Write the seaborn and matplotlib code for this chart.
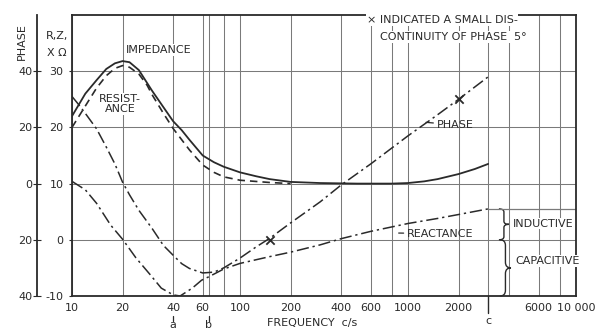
import numpy as np
import pandas as pd
import matplotlib
matplotlib.use("Agg")
import matplotlib.pyplot as plt
from matplotlib.path import Path
from matplotlib.patches import PathPatch
import matplotlib.transforms as mtransforms
import seaborn as sns

# ---------------- data ----------------
imp_freq = [10, 12, 14, 16, 18, 20, 22, 25, 28, 30, 35, 40, 45, 50, 60, 70, 80, 100,
            125, 150, 200, 300, 500, 800, 1000, 1250, 1500, 2000, 2500, 3000]
impedance = [22.0, 26.0, 28.4, 30.4, 31.4, 31.8, 31.6, 30.2, 27.9, 26.5, 23.6, 21.1, 19.5,
             17.8, 15.0, 13.8, 13.0, 12.0, 11.3, 10.8, 10.3, 10.1, 10.0, 10.0, 10.1, 10.4,
             10.8, 11.7, 12.6, 13.5]

res_freq = [10, 12, 14, 16, 18, 20, 22, 25, 28, 30, 35, 40, 50, 60, 70, 80, 100, 150, 200]
resistance = [20.0, 23.8, 27.0, 29.2, 30.5, 31.0, 30.7, 29.5, 27.5, 25.8, 22.5, 19.8, 16.0,
              13.3, 12.0, 11.2, 10.6, 10.2, 10.0]

rea_freq = [10, 12, 14, 17, 20, 24, 29, 34, 40, 44, 52, 59, 65, 80, 100, 150, 200, 300,
            400, 600, 1000, 1500, 2000, 3000]
reactance = [10.4, 8.9, 6.5, 2.6, 0.1, -3.2, -6.1, -8.6, -9.8, -10.0, -8.6, -7.2, -6.6,
             -5.2, -4.2, -3.0, -2.2, -0.9, 0.2, 1.5, 2.9, 3.8, 4.5, 5.5]

pha_freq = [10, 11, 12, 14, 16, 18, 20, 22, 25, 30, 35, 40, 45, 50, 60, 70, 80, 100, 125,
            150, 200, 300, 400, 600, 1000, 1500, 2000, 3000]
phase = [31, 28, 25, 19.5, 13, 7, 0.5, -4, -9.5, -16, -22, -25.5, -28.5, -30.2, -31.8,
         -31.5, -30, -26.5, -22.5, -19.5, -14, -6.5, -0.5, 7, 17, 24.5, 30, 38]

mark_freq = [150, 2000]
mark_phase = [-20, 30]

x_tick_vals = [10, 20, 40, 60, 100, 200, 400, 600, 1000, 2000, 6000, 10000]
x_tick_labels = ["10", "20", "40", "60", "100", "200", "400", "600", "1000", "2000",
                 "6000", "10 000"]
x_minor_grid = [65, 80, 800, 3000, 4000, 8000]
y_tick_vals = [-10, 0, 10, 20, 30]
y_tick_labels = ["-10", "0", "10", "20", "30"]
phase_tick_vals = [-40, -20, 0, 20, 40]
phase_tick_labels = ["40", "20", "0", "20", "40"]
special_labels = ["a", "b", "c"]
special_freqs = [40, 65, 3000]

# ---------------- style ----------------
sns.set_style("white")
plt.rcParams["font.family"] = ["DejaVu Sans"]
INK = "#2a2a2a"
GRID = "#7a7a7a"
FS = 8

W, H = 611, 332
fig = plt.figure(figsize=(W / 100, H / 100), dpi=100)
L, R, T, B = 72, 576, 15, 296
ax = fig.add_axes([L / W, 1 - B / H, (R - L) / W, (B - T) / H])
ax.set_xscale("log")
ax.set_xlim(10, 10000)
ax.set_ylim(-10, 40)

# grid
ax.set_xticks(x_tick_vals)
ax.set_xticklabels(x_tick_labels)
ax.set_xticks(x_minor_grid, minor=True)
ax.set_xticklabels([], minor=True)
ax.set_yticks(y_tick_vals)
ax.set_yticklabels(y_tick_labels)
ax.grid(which="both", axis="x", color=GRID, lw=0.75)
ax.grid(which="major", axis="y", color=GRID, lw=0.75)
ax.tick_params(axis="x", which="both", length=0, pad=5, labelsize=FS, colors=INK)
ax.tick_params(axis="y", length=2, pad=4, labelsize=FS, colors=INK)
for s in ax.spines.values():
    s.set_color(INK)
    s.set_linewidth(1.3)

# curves
sns.lineplot(x=imp_freq, y=impedance, ax=ax, color=INK, lw=1.3, estimator=None)
sns.lineplot(x=res_freq, y=resistance, ax=ax, color=INK, lw=1.2, estimator=None)
ax.lines[-1].set_linestyle((0, (4.5, 3)))
sns.lineplot(x=rea_freq, y=reactance, ax=ax, color=INK, lw=1.1, estimator=None)
ax.lines[-1].set_linestyle((0, (8, 2.5, 1.5, 2.5)))

# phase on a second axis (outer left scale)
ax2 = ax.twinx()
ax2.set_ylim(-40, 60)
sns.lineplot(x=pha_freq, y=phase, ax=ax2, color=INK, lw=1.1, estimator=None)
ax2.lines[-1].set_linestyle((0, (8, 2.5, 1.5, 2.5)))
sns.scatterplot(x=mark_freq, y=mark_phase, ax=ax2, marker="x", s=36, color=INK,
                linewidth=1.3, zorder=5)
ax2.set_xlim(10, 10000)
ax2.yaxis.set_ticks_position("left")
ax2.spines["left"].set_visible(True)
ax2.spines["left"].set_position(("outward", 25))
ax2.spines["left"].set_color(INK)
ax2.spines["left"].set_linewidth(1.3)
for k in ("right", "top", "bottom"):
    ax2.spines[k].set_visible(False)
ax2.set_yticks(phase_tick_vals)
ax2.set_yticklabels(phase_tick_labels)
ax2.tick_params(axis="y", direction="inout", length=6, pad=0.5, labelsize=FS, colors=INK)
ax2.set_xlabel("")
ax2.set_ylabel("")
ax.set_xlabel("")
ax.set_ylabel("")

# c line extended below axis, a / b dashes
xtrans = ax.get_xaxis_transform()
for lab, f in zip(special_labels, special_freqs):
    if lab == "c":
        ax.plot([f, f], [0, -0.06], transform=xtrans, color=INK, lw=1.0, clip_on=False)
        ax.text(f, -0.088, lab, transform=xtrans, ha="center", va="center", fontsize=FS,
                color=INK)
    else:
        ax.plot([f, f], [-0.07, -0.088], transform=xtrans, color=INK, lw=0.9,
                clip_on=False)
        ax.text(f, -0.104, lab, transform=xtrans, ha="center", va="center", fontsize=FS,
                color=INK)

# end of inductive range line
ax.hlines(reactance[-1], special_freqs[2], 10000, color=GRID, lw=0.9)

# braces
btrans = mtransforms.blended_transform_factory(ax.transAxes, ax.transData)


def brace(x0, w, y0, y1):
    ym = (y0 + y1) / 2
    c = (y1 - y0) * 0.1
    verts = [(x0, y1), (x0 + w / 2, y1), (x0 + w / 2, y1 - c),
             (x0 + w / 2, ym + c), (x0 + w / 2, ym), (x0 + w, ym),
             (x0 + w / 2, ym), (x0 + w / 2, ym - c),
             (x0 + w / 2, y0 + c), (x0 + w / 2, y0), (x0, y0)]
    codes = [Path.MOVETO, Path.CURVE3, Path.CURVE3, Path.LINETO, Path.CURVE3, Path.CURVE3,
             Path.CURVE3, Path.CURVE3, Path.LINETO, Path.CURVE3, Path.CURVE3]
    ax.add_patch(PathPatch(Path(verts, codes), transform=btrans, fill=False,
                           edgecolor=INK, lw=1.0, clip_on=False))


brace(0.847, 0.02, 0.0, reactance[-1])
brace(0.849, 0.022, -10, 0.0)

# labels
bg = dict(facecolor="white", edgecolor="none", pad=0.6)
ax.text(33, 33.8, "IMPEDANCE", ha="center", va="center", fontsize=FS, color=INK, bbox=bg)
ax.text(19.4, 24.2, "RESIST-\nANCE", ha="center", va="center", fontsize=FS, color=INK,
        linespacing=1.0, bbox=bg)
ax2.annotate("PHASE", xy=(1280, 21.8), xytext=(1480, 20.9), ha="left", va="center",
             fontsize=FS, color=INK,
             arrowprops=dict(arrowstyle="-", color=INK, lw=0.9, shrinkA=0, shrinkB=0))
ax.annotate("REACTANCE", xy=(880, 1.2), xytext=(985, 1.1), ha="left", va="center",
            fontsize=FS, color=INK,
            arrowprops=dict(arrowstyle="-", color=INK, lw=0.9, shrinkA=0, shrinkB=0))
ax.text(0.875, 2.9, "INDUCTIVE", transform=btrans, ha="left", va="center", fontsize=FS,
        color=INK, bbox=bg)
ax.text(0.879, -3.8, "CAPACITIVE", transform=btrans, ha="left", va="center", fontsize=FS,
        color=INK, bbox=bg)
ax.text(0.5845, 0.982, "\u00d7 INDICATED A SMALL DIS-", transform=ax.transAxes, ha="left",
        va="center", fontsize=FS, color=INK, bbox=bg)
ax.text(0.612, 0.922, "CONTINUITY OF PHASE  5\u00b0", transform=ax.transAxes, ha="left",
        va="center", fontsize=FS, color=INK, bbox=bg)

fig.text(312 / W, 1 - 323 / H, "FREQUENCY  c/s", ha="center", va="center", fontsize=FS,
         color=INK)
fig.text(22 / W, 1 - 42 / H, "PHASE", rotation=90, ha="center", va="center", fontsize=FS,
         color=INK)
fig.text(57 / W, 1 - 36 / H, "R,Z,", ha="center", va="center", fontsize=FS, color=INK)
fig.text(57 / W, 1 - 53 / H, "X \u03a9", ha="center", va="center", fontsize=FS, color=INK)

fig.savefig("out.png", dpi=100, facecolor="white")
